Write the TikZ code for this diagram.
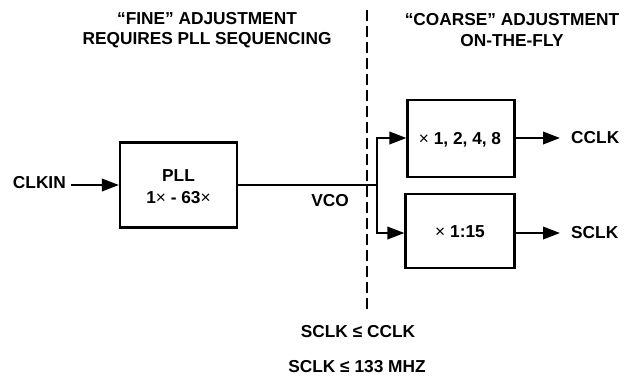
\documentclass[tikz,border=0pt]{standalone}
\usepackage{fontspec}
\setmainfont{Liberation Sans}
\usetikzlibrary{arrows.meta}
\tikzset{
  box/.style={draw, line width=2.2pt, inner sep=0pt},
  lbl/.style={inner sep=0pt, font=\fontsize{17.3}{19}\selectfont\bfseries},
  hdr/.style={inner sep=0pt, align=center, font=\fontsize{17.3}{20.5}\selectfont\bfseries},
  wire/.style={line width=2pt},
  arr/.style={line width=2pt, -{Triangle[length=17pt,width=12.5pt]}},
  divider/.style={line width=2.4pt, dash pattern=on 11pt off 5pt}
}
\begin{document}
\begin{tikzpicture}[x=1pt,y=-1pt]
\useasboundingbox (0,0) rectangle (634,378);
% headers
\node[hdr] (h1) at (207,30) {“FINE” ADJUSTMENT\\REQUIRES PLL SEQUENCING};
\node[hdr] (h2) at (512,30) {“COARSE” ADJUSTMENT\\ON-THE-FLY};
% divider
\coordinate (dtop) at (367,10);
\coordinate (dbot) at (367,312);
\draw[divider] (dtop) -- (dbot);
% boxes
\node[box, minimum width=117pt, minimum height=85pt] (pll) at (178.5,185) {};
\node[lbl] (pllt) at (178.5,176) {PLL};
\node[lbl, font=\fontsize{17.3}{19}\selectfont] (pllr) at (178.5,198) {\textbf{1}×\textbf{ - 63}×};
\node[box, minimum width=107pt, minimum height=77pt] (cm) at (461,138.5) {};
\node[lbl] (cmt) at (460,140) {\mdseries×\bfseries\ 1, 2, 4, 8};
\node[box, minimum width=109pt, minimum height=74pt] (sm) at (460,231) {};
\node[lbl] (smt) at (460,232) {\mdseries×\bfseries\ 1:15};
% labels
\node[lbl, anchor=east] (clkin) at (66,183) {CLKIN};
\node[lbl] (vco) at (330,201) {VCO};
\node[lbl, anchor=west] (cclk) at (571,138) {CCLK};
\node[lbl, anchor=west] (sclk) at (571,233) {SCLK};
\node[lbl] (c1) at (358,332) {SCLK ≤ CCLK};
\node[lbl] (c2) at (357,367) {SCLK ≤ 133 MHZ};
% connectors
\coordinate (br) at (377,185);
\draw[arr, shorten <=5pt] (clkin.east |- pll.west) -- (pll.west);
\draw[wire] (pll.east) -- (br);
\draw[arr] (br) |- (cm.west |- 0,138);
\draw[arr] (br) |- (sm.west |- 0,233);
\draw[arr, shorten >=11pt] (cm.east |- cclk.west) -- (cclk.west);
\draw[arr, shorten >=11pt] (sm.east |- sclk.west) -- (sclk.west);
\end{tikzpicture}
\end{document}
